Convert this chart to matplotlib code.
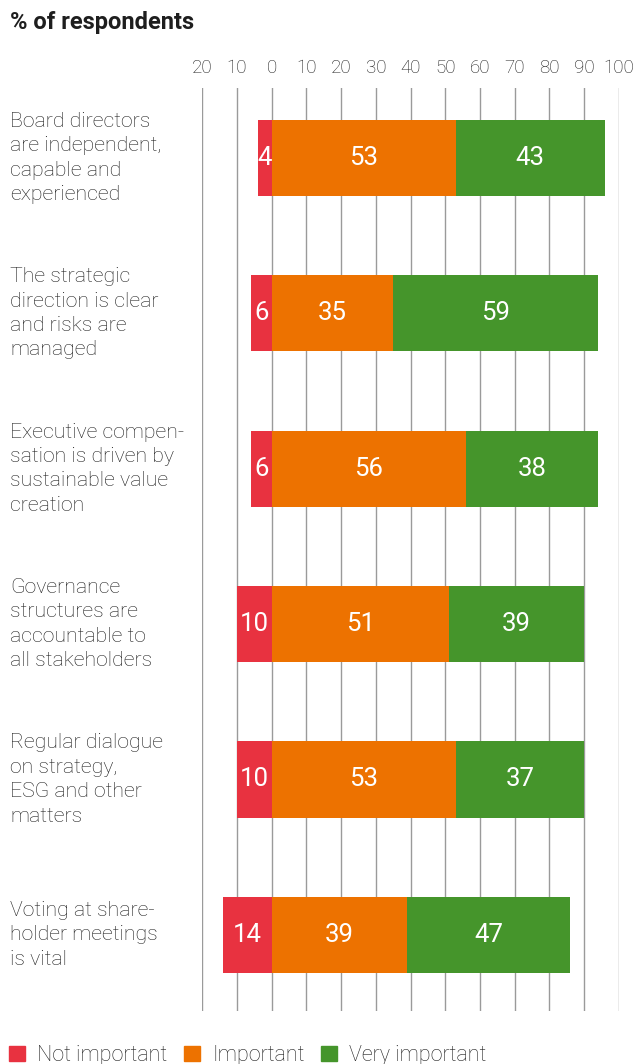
import matplotlib
matplotlib.use("Agg")
import matplotlib.pyplot as plt
import numpy as np
from matplotlib.patches import Patch
from matplotlib.transforms import blended_transform_factory

plt.rcParams['font.family'] = ['Roboto', 'DejaVu Sans']

categories = [
    "Board directors\nare independent,\ncapable and\nexperienced",
    "The strategic\ndirection is clear\nand risks are\nmanaged",
    "Executive compen-\nsation is driven by\nsustainable value\ncreation",
    "Governance\nstructures are\naccountable to\nall stakeholders",
    "Regular dialogue\non strategy,\nESG and other\nmatters",
    "Voting at share-\nholder meetings\nis vital",
]
not_important = [4, 6, 6, 10, 10, 14]
important = [53, 35, 56, 51, 53, 39]
very_important = [43, 59, 38, 39, 37, 47]
tick_values = [-20, -10, 0, 10, 20, 30, 40, 50, 60, 70, 80, 90, 100]
tick_labels = ["20", "10", "0", "10", "20", "30", "40", "50", "60", "70", "80", "90", "100"]
series_names = ["Not important", "Important", "Very important"]

RED = "#E83240"
ORANGE = "#ED7200"
GREEN = "#45952B"
TEXT = "#1e1e1e"

W, H = 640, 1064
fig = plt.figure(figsize=(W / 100, H / 100), dpi=100)
ax = fig.add_axes([202.3 / W, 1 - 1011 / H, 416.4 / W, (1011 - 88) / H])

y = np.arange(len(categories))
ni = np.array(not_important)
im = np.array(important)
vi = np.array(very_important)
bh = 0.49

ax.barh(y, -ni, left=0, height=bh, color=RED, zorder=3)
ax.barh(y, im, left=0, height=bh, color=ORANGE, zorder=3)
ax.barh(y, vi, left=im, height=bh, color=GREEN, zorder=3)

for i in range(len(categories)):
    ax.text(-ni[i] / 2, y[i], str(ni[i]), ha='center', va='center', color='white', fontsize=18.5, zorder=4)
    ax.text(im[i] / 2, y[i], str(im[i]), ha='center', va='center', color='white', fontsize=18.5, zorder=4)
    ax.text(im[i] + vi[i] / 2, y[i], str(vi[i]), ha='center', va='center', color='white', fontsize=18.5, zorder=4)

ax.set_xlim(-20, 100)
ax.set_ylim(5.49, -0.45)
ax.set_xticks(tick_values)
ax.set_xticklabels(tick_labels, fontweight='light')
ax.xaxis.tick_top()
ax.tick_params(axis='x', length=0, pad=8, labelsize=13.5, labelcolor=TEXT)
ax.set_yticks([])
for s in ax.spines.values():
    s.set_visible(False)
ax.grid(axis='x', color='#9a9a9a', linewidth=1.0, zorder=0)
ax.set_axisbelow(True)

trans = blended_transform_factory(fig.transFigure, ax.transData)
for i, c in enumerate(categories):
    ax.text(10 / W, y[i], c, transform=trans, ha='left', va='center', fontsize=15.3,
            fontweight='light', color=TEXT, linespacing=1.36)

fig.text(10 / W, 1 - 23 / H, "% of respondents", ha='left', va='center', fontsize=17,
         fontweight='bold', color=TEXT)

handles = [Patch(color=RED), Patch(color=ORANGE), Patch(color=GREEN)]
fig.legend(handles, series_names, loc='upper left', bbox_to_anchor=(9 / W, 1 - 1045 / H),
           ncol=3, frameon=False, prop={'size': 15.5, 'weight': 'light'},
           handlelength=0.74, handleheight=0.74,
           handletextpad=0.56, columnspacing=0.79, borderpad=0, borderaxespad=0,
           labelcolor=TEXT)

fig.savefig("out.png", dpi=100)
